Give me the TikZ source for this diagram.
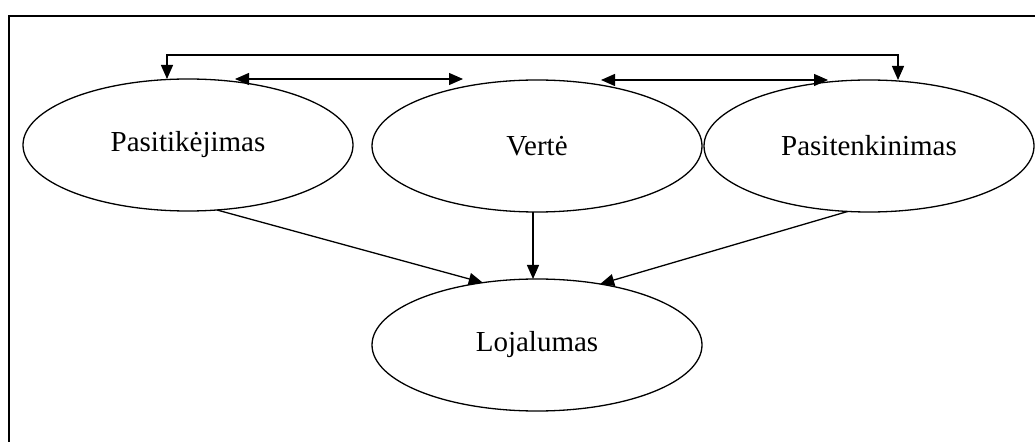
\documentclass[tikz,border=0pt]{standalone}
\usepackage{fontspec}
\setmainfont{Liberation Serif}
\usetikzlibrary{shapes.geometric,arrows.meta}
\begin{document}
\begin{tikzpicture}[x=1pt,y=1pt,
  tip/.tip={Triangle[length=14pt,width=12pt]},
  concept/.style={draw, ellipse, line width=1.3pt, minimum width=330pt,
    minimum height=132pt, inner sep=0pt, outer sep=0pt, font=\fontsize{29}{34}\selectfont},
  link/.style={line width=1.3pt, -tip},
  bilink/.style={line width=1.3pt, tip-tip},
  frameline/.style={line width=2.4pt}]
\useasboundingbox (0,0) rectangle (1035,442);

% outer frame (top and left sides)
\coordinate (frTR) at (1035,426);
\coordinate (frTL) at (9,426);
\coordinate (frBL) at (9,0);
\draw[frameline] (frTR) -- (frTL) -- (frBL);

% concepts
\node[concept] (P) at (188,297) {Pasitikėjimas};
\node[concept] (V) at (537,296) {Vertė};
\node[concept] (S) at (869,296) {Pasitenkinimas};
\node[concept] (L) at (537,97) {Lojalumas};

% top bar linking the two outer concepts
\coordinate (bar) at (530,387);
\draw[bilink] ([xshift=-21pt]P.north) |- (bar) -| ([xshift=29pt]S.north);

% links between neighbouring concepts
\draw[bilink] ([xshift=47pt]P.north) -- ([xshift=-74pt,yshift=1pt]V.north);
\draw[bilink] ([xshift=64pt]V.north) -- ([xshift=-41pt]S.north);

% influences on loyalty
\draw[link] (P.-66) -- (L.131);
\draw[link] ([xshift=-4pt]V.south) -- ([xshift=-4pt]L.north);
\draw[link] (S.252) -- (L.44);
\end{tikzpicture}
\end{document}
